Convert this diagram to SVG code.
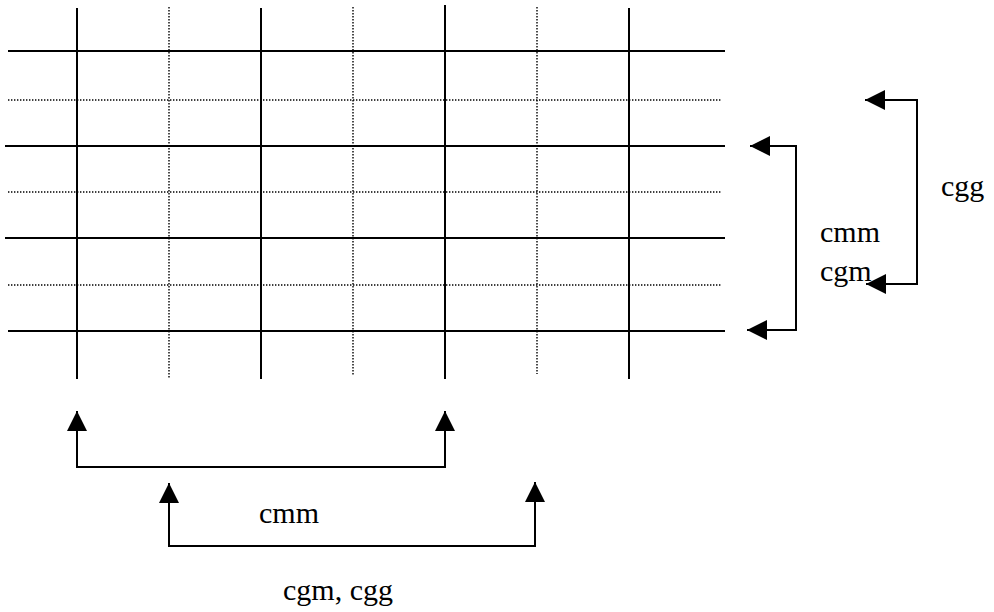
<svg xmlns="http://www.w3.org/2000/svg" width="994" height="612" viewBox="0 0 994 612">
  <style>
    .solid { stroke: #000; stroke-width: 2; fill: none; }
    .dot { stroke: #000; stroke-width: 1.4; stroke-dasharray: 1.4 1.6; fill: none; }
    .conn { stroke: #000; stroke-width: 2; fill: none; marker-start: url(#arrow); marker-end: url(#arrow); }
    .lbl { font-family: "Liberation Serif", "Times New Roman", serif; font-size: 30px; fill: #000; }
  </style>
  <defs>
    <marker id="arrow" markerUnits="userSpaceOnUse" markerWidth="20" markerHeight="20" viewBox="0 0 20 20" refX="20" refY="10" orient="auto-start-reverse">
      <path d="M0,0 L20,10 L0,20 z" fill="#000"/>
    </marker>
  </defs>
  <rect width="994" height="612" fill="#fff"/>
  <g id="grid">
    <line class="solid" x1="8" y1="51" x2="725" y2="51"/>
    <line class="dot" x1="8" y1="100" x2="722" y2="100"/>
    <line class="solid" x1="5" y1="146" x2="725" y2="146"/>
    <line class="dot" x1="8" y1="192" x2="722" y2="192"/>
    <line class="solid" x1="5" y1="238" x2="725" y2="238"/>
    <line class="dot" x1="8" y1="285" x2="722" y2="285"/>
    <line class="solid" x1="8" y1="331" x2="725" y2="331"/>
    <line class="solid" x1="77" y1="8" x2="77" y2="379"/>
    <line class="dot" x1="169" y1="7" x2="169" y2="378"/>
    <line class="solid" x1="261" y1="8" x2="261" y2="379"/>
    <line class="dot" x1="353" y1="7" x2="353" y2="376"/>
    <line class="solid" x1="445" y1="5" x2="445" y2="379"/>
    <line class="dot" x1="537" y1="7" x2="537" y2="374"/>
    <line class="solid" x1="629" y1="8" x2="629" y2="379"/>
  </g>
  <g id="connectors">
    <path class="conn" d="M750,146 H796 V330 H747"/>
    <path class="conn" d="M865,100 H917 V284 H866"/>
    <path class="conn" d="M77,411 V467 H445 V411"/>
    <path class="conn" d="M169,483 V546 H535 V482"/>
  </g>
  <g id="label-cmm-right"><text class="lbl" x="820" y="242">cmm</text></g>
  <g id="label-cgm-right"><text class="lbl" x="820" y="281">cgm</text></g>
  <g id="label-cgg-right"><text class="lbl" x="941" y="196">cgg</text></g>
  <g id="label-cmm-bottom"><text class="lbl" x="259" y="523">cmm</text></g>
  <g id="label-cgm-cgg-bottom"><text class="lbl" x="283" y="600">cgm, cgg</text></g>
</svg>
